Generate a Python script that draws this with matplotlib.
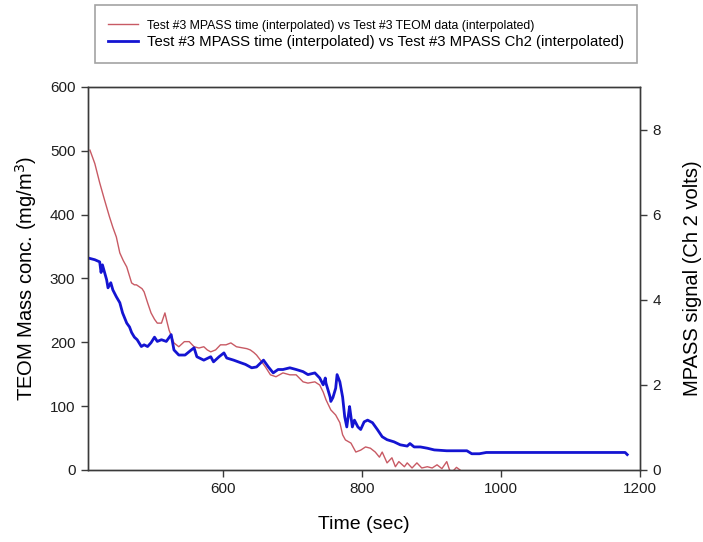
import matplotlib
matplotlib.use("Agg")
import matplotlib.pyplot as plt
from matplotlib.lines import Line2D

plt.rcParams['font.family'] = ['Liberation Sans', 'DejaVu Sans']

# TEOM mass concentration (mg/m^3) against time (sec)
teom_time = [408, 415, 422, 429, 436, 441, 446, 451, 456, 461, 468, 472, 475, 479,
             483, 486, 491, 496, 501, 505, 511, 516, 519, 522, 529, 536, 544, 551,
             558, 565, 572, 577, 582, 589, 596, 604, 611, 615, 619, 624, 629, 634,
             639, 644, 648, 655, 661, 668, 676, 686, 696, 705, 715, 722, 732, 739,
             744, 748, 755, 762, 768, 772, 776, 784, 791, 798, 805, 812, 819, 825,
             829, 836, 843, 848, 853, 861, 865, 872, 879, 886, 894, 901, 908, 915,
             922, 926, 930, 936, 941]
teom_conc = [501, 480, 450, 423, 397, 380, 365, 340, 328, 318, 293, 290, 290, 287,
             284, 279, 262, 246, 236, 230, 230, 246, 232, 219, 199, 193, 201, 201,
             193, 191, 193, 188, 185, 188, 196, 196, 199, 196, 193, 192, 191, 190,
             188, 184, 180, 170, 161, 149, 146, 152, 149, 149, 138, 136, 138, 133,
             122, 110, 94, 86, 74, 55, 47, 42, 28, 31, 36, 34, 28, 20,
             28, 11, 19, 5, 13, 5, 11, 3, 11, 3, 5, 3, 8, 2,
             13, 0, -3, 4, 0]

# MPASS channel 2 signal (volts) against time (sec)
mpass_time = [408, 415, 422, 424, 426, 432, 434, 438, 441, 446, 451, 455, 461, 465,
              468, 472, 476, 482, 486, 491, 496, 501, 505, 511, 518, 525, 529, 536,
              545, 554, 558, 562, 572, 582, 586, 594, 601, 605, 615, 625, 632, 641,
              648, 658, 665, 672, 679, 686, 696, 705, 715, 722, 732, 739, 744, 747,
              748, 754, 755, 758, 762, 764, 768, 772, 775, 778, 782, 784, 786, 789,
              794, 798, 803, 808, 815, 822, 829, 836, 846, 855, 865, 869, 875, 884,
              894, 904, 922, 951, 958, 969, 979, 1018, 1065, 1112, 1179, 1182]
mpass_volts = [4.97, 4.94, 4.89, 4.64, 4.82, 4.47, 4.28, 4.40, 4.23, 4.07, 3.93, 3.69,
               3.45, 3.36, 3.23, 3.12, 3.06, 2.90, 2.94, 2.90, 2.99, 3.12, 3.02, 3.06,
               3.02, 3.18, 2.82, 2.70, 2.70, 2.82, 2.87, 2.66, 2.58, 2.66, 2.54, 2.66,
               2.75, 2.63, 2.58, 2.52, 2.48, 2.40, 2.42, 2.58, 2.42, 2.28, 2.36, 2.36,
               2.40, 2.36, 2.31, 2.24, 2.28, 2.16, 2.00, 2.16, 2.04, 1.71, 1.61, 1.70,
               1.92, 2.24, 2.07, 1.71, 1.25, 1.01, 1.49, 1.25, 1.01, 1.17, 1.01, 0.95,
               1.13, 1.17, 1.11, 0.95, 0.78, 0.71, 0.66, 0.59, 0.56, 0.62, 0.54, 0.54,
               0.51, 0.47, 0.45, 0.45, 0.38, 0.38, 0.41, 0.41, 0.41, 0.41, 0.41, 0.36]

x_ticks = [600, 800, 1000, 1200]
left_ticks = [0, 100, 200, 300, 400, 500, 600]
right_ticks = [0, 2, 4, 6, 8]

label_teom = "Test #3 MPASS time (interpolated) vs Test #3 TEOM data (interpolated)"
label_mpass = "Test #3 MPASS time (interpolated) vs Test #3 MPASS Ch2 (interpolated)"

red = '#c85a64'
blue = '#1414d2'
spine_col = '#3a3a3a'

fig = plt.figure(figsize=(7.03, 5.42), dpi=100)
ax = fig.add_axes([0.125, 0.133, 0.785, 0.7065])
ax.plot(teom_time, teom_conc, color=red, lw=1.0)
ax.set_xlim(405, 1200)
ax.set_ylim(0, 600)
ax.set_xticks(x_ticks)
ax.set_yticks(left_ticks)

ax2 = ax.twinx()
ax2.plot(mpass_time, mpass_volts, color=blue, lw=2.0)
ax2.set_ylim(0, 9)
ax2.set_yticks(right_ticks)

for a in (ax, ax2):
    for s in a.spines.values():
        s.set_color(spine_col)
        s.set_linewidth(1.0)
    a.tick_params(direction='out', length=5, width=1.0, color=spine_col,
                  labelsize=11, labelcolor='#1e1e1e', pad=4)

ax.set_xlabel("Time (sec)", fontsize=14, labelpad=14)
ax.set_ylabel("TEOM Mass conc. (mg/m$^3$)", fontsize=14.5, labelpad=8)
ax2.set_ylabel("MPASS signal (Ch 2 volts)", fontsize=14.5, labelpad=16)

handles = [Line2D([], [], color=red, lw=1.0), Line2D([], [], color=blue, lw=2.0)]
leg = fig.legend(handles, [label_teom, label_mpass], loc='upper right',
                 bbox_to_anchor=(637 / 703, 1 - 5 / 542), borderaxespad=0,
                 frameon=True, fancybox=False, edgecolor='#8c8c8c',
                 handlelength=2.0, handletextpad=0.6, borderpad=0.9,
                 labelspacing=0.25, fontsize=10.7)
leg.get_frame().set_linewidth(1.2)
leg.get_texts()[0].set_fontsize(8.8)

fig.savefig("out.png", dpi=100)
